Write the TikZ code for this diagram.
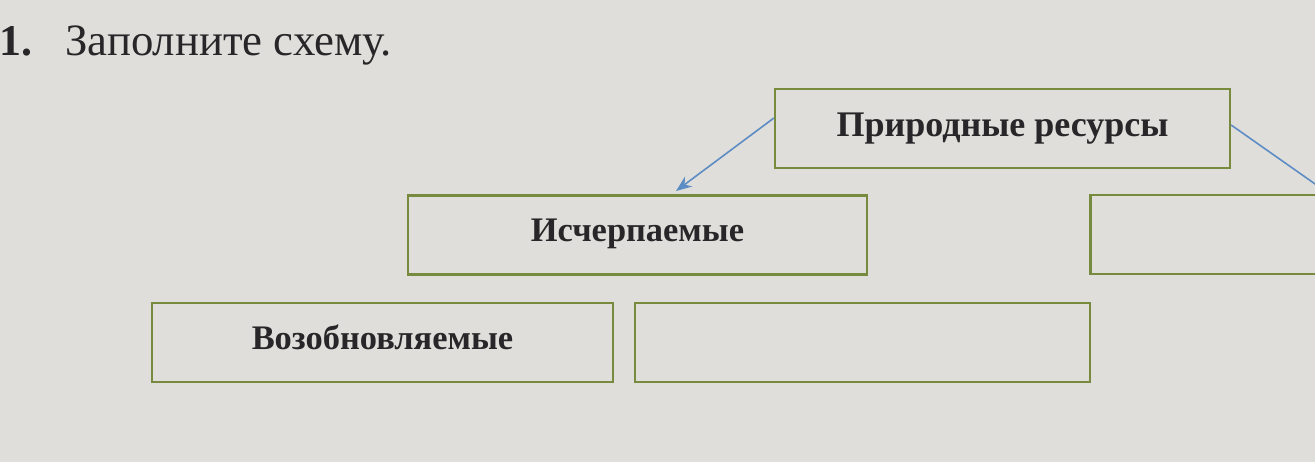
\documentclass[tikz,border=0pt]{standalone}
\usepackage{fontspec}
\setmainfont{Liberation Serif}
\usetikzlibrary{arrows.meta}
\definecolor{paper}{RGB}{224,222,218}
\definecolor{boxline}{RGB}{120,138,62}
\definecolor{arrowblue}{RGB}{92,140,196}
\definecolor{ink}{RGB}{40,38,40}
\tikzset{
  cellbox/.style={draw=boxline, line width=1.3pt, fill=none, inner sep=0pt,
    minimum width=9.1cm, minimum height=1.58cm, text=ink,
    font=\bfseries\fontsize{19.6}{22}\selectfont},
  link/.style={draw=arrowblue, line width=0.9pt, -{Stealth[length=9pt,width=7pt]}},
}
\begin{document}
\begin{tikzpicture}[x=0.02cm,y=-0.02cm]
\useasboundingbox (0,0) rectangle (1315,462);
\fill[paper] (0,0) rectangle (1315,462);
\begin{scope}
\clip (0,0) rectangle (1315,462);
\node[anchor=base west, text=ink, font=\bfseries\fontsize{25}{28}\selectfont, inner sep=0pt] (num) at (-1,56) {1.};
\node[anchor=base west, text=ink, font=\fontsize{25.5}{28}\selectfont, inner sep=0pt] (title) at (65,56) {Заполните схему.};
\node[cellbox, font=\bfseries\fontsize{20.5}{22}\selectfont] (root) at (1002.5,128.5) {\raisebox{3pt}{Природные ресурсы}};
\node[cellbox, minimum width=9.18cm] (exh) at (637.5,235) {\raisebox{5pt}{Исчерпаемые}};
\node[cellbox] (right) at (1318,234.5) {};
\node[cellbox, minimum width=9.22cm] (ren) at (382.5,342.5) {\raisebox{6pt}{Возобновляемые}};
\node[cellbox, minimum width=9.1cm] (empty) at (862.5,342.5) {};
\coordinate (rend) at (1345,205);
\draw[link] (root.west |- 0,118) -- (676,191);
\draw[draw=arrowblue, line width=0.9pt] (root.east |- 0,125) -- (rend);
\end{scope}
\end{tikzpicture}
\end{document}
